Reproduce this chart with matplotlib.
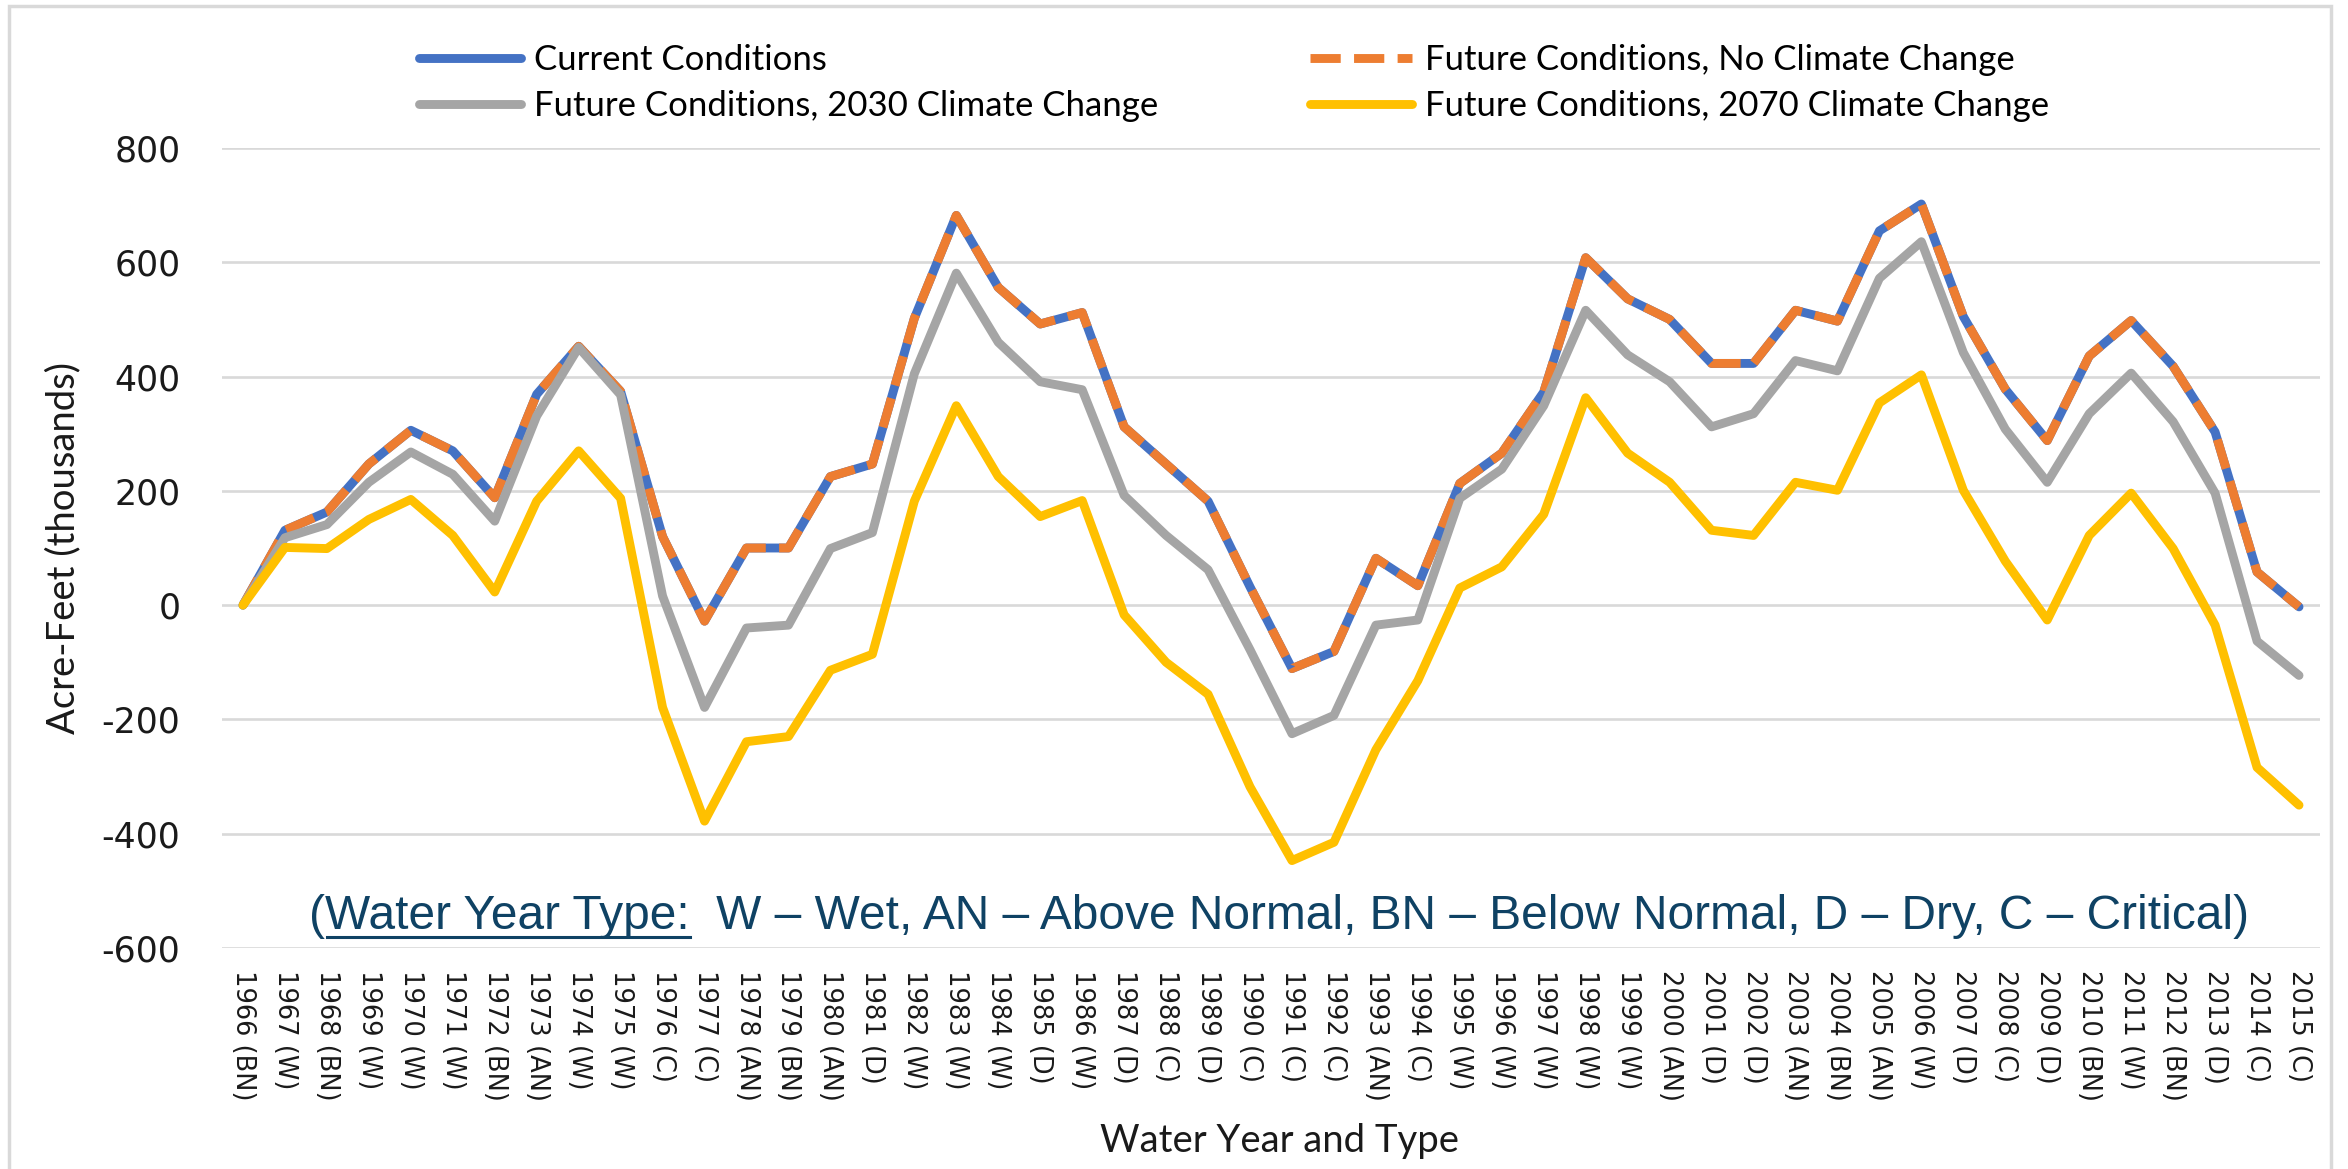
import matplotlib
matplotlib.use("Agg")
import matplotlib.pyplot as plt
from matplotlib.lines import Line2D
from matplotlib.patches import Rectangle
from matplotlib.font_manager import FontProperties

# ---- data (thousand acre-feet) ----
years = list(range(1966, 2016))
year_types = ["BN", "W", "BN", "W", "W", "W", "BN", "AN", "W", "W",
              "C", "C", "AN", "BN", "AN", "D", "W", "W", "W", "D",
              "W", "D", "C", "D", "C", "C", "C", "AN", "C", "W",
              "W", "W", "W", "W", "AN", "D", "D", "AN", "BN", "AN",
              "W", "D", "C", "D", "BN", "W", "BN", "D", "C", "C"]

current = [0, 131, 163, 247, 306, 270, 188, 369, 453, 374,
           120, -28, 100, 100, 225, 247, 502, 682, 556, 492,
           512, 312, 247, 182, 32, -111, -81, 82, 34, 213,
           266, 373, 608, 536, 500, 423, 423, 516, 497, 655,
           702, 505, 378, 288, 436, 498, 418, 303, 58, -3]

future_no_cc = [0, 131, 163, 247, 306, 270, 188, 369, 453, 374,
                120, -28, 100, 100, 225, 247, 502, 682, 556, 492,
                512, 312, 247, 182, 32, -111, -81, 82, 34, 213,
                266, 373, 608, 536, 500, 423, 423, 516, 497, 655,
                702, 505, 378, 288, 436, 498, 418, 303, 58, -3]

future_2030 = [0, 118, 141, 215, 268, 229, 147, 331, 451, 368,
               16, -179, -40, -35, 99, 127, 405, 581, 460, 391,
               377, 192, 122, 62, -78, -225, -193, -35, -26, 187,
               238, 349, 516, 438, 391, 312, 335, 428, 410, 572,
               636, 442, 308, 215, 335, 406, 321, 196, -63, -123]

future_2070 = [0, 101, 99, 150, 185, 122, 23, 182, 270, 187,
               -179, -378, -239, -230, -114, -86, 182, 349, 225, 155,
               183, -17, -100, -156, -318, -447, -415, -253, -132, 30,
               67, 159, 363, 266, 215, 131, 122, 215, 201, 354,
               403, 201, 77, -26, 122, 196, 99, -35, -284, -350]

tick_labels = [f"{y} ({t})" for y, t in zip(years, year_types)]
y_ticks = [-600, -400, -200, 0, 200, 400, 600, 800]

# ---- figure ----
W, H = 2348, 1169
fig = plt.figure(figsize=(W / 100, H / 100), dpi=100)
fig.patch.set_facecolor("white")


def fx(px):
    return px / W


def fy(py):
    return 1 - py / H


ax_left, ax_right, ax_top, ax_bottom = 222, 2320, 148, 948
ax = fig.add_axes([fx(ax_left), fy(ax_bottom),
                   (ax_right - ax_left) / W, (ax_bottom - ax_top) / H])

x = list(range(len(years)))
lw = 6.4
l_cur, = ax.plot(x, current, color="#4472C4", lw=lw, solid_joinstyle="round",
                 solid_capstyle="round", label="Current Conditions")
l_no, = ax.plot(x, future_no_cc, color="#ED7D31", lw=lw, dash_capstyle="butt",
                label="Future Conditions, No Climate Change")
l_no.set_dashes((3.4, 1.5))
l_30, = ax.plot(x, future_2030, color="#A5A5A5", lw=lw, solid_joinstyle="round",
                solid_capstyle="round", label="Future Conditions, 2030 Climate Change")
l_70, = ax.plot(x, future_2070, color="#FFC000", lw=lw, solid_joinstyle="round",
                solid_capstyle="round", label="Future Conditions, 2070 Climate Change")

ax.set_xlim(-0.5, len(years) - 0.5)
ax.set_ylim(-600, 800)
ax.set_yticks(y_ticks)
ax.set_yticklabels([str(v) for v in y_ticks], fontsize=25, color="#1a1a1a",
                   family="DejaVu Sans")
ax.set_xticks(x)
ax.set_xticklabels(tick_labels, rotation=-90, fontsize=18.5, color="#1a1a1a",
                   family="DejaVu Sans")
ax.tick_params(axis="y", length=0, pad=30)
ax.tick_params(axis="x", length=0, pad=16)
for s in ax.spines.values():
    s.set_visible(False)
ax.grid(axis="y", color="#D9D9D9", lw=1.9)
ax.set_axisbelow(True)

label_font = ["Lato", "DejaVu Sans"]
fig.text(fx(63), fy(548), "Acre-Feet (thousands)", rotation=90, ha="center",
         va="center", fontsize=27.5, family=label_font, color="#1a1a1a")
fig.text(fx(1280), fy(1141), "Water Year and Type", ha="center", va="center",
         fontsize=27.5, family=label_font, color="#1a1a1a")

# ---- legend: two columns placed independently ----
leg_kw = dict(loc="center left", frameon=False,
              prop={"family": label_font, "size": 25},
              handlelength=2.95, handletextpad=0.35, borderpad=0,
              borderaxespad=0, labelspacing=0.42)
fig.legend(handles=[l_cur, l_30], bbox_to_anchor=(fx(419), fy(83)), **leg_kw)
fig.legend(handles=[l_no, l_70], bbox_to_anchor=(fx(1310), fy(83)), **leg_kw)

# ---- water year type note, fitted across the plot ----
note_color = "#0F4264"
prefix = "("
underlined = "Water Year Type:"
rest = "  W \u2013 Wet, AN \u2013 Above Normal, BN \u2013 Below Normal, D \u2013 Dry, C \u2013 Critical)"
full = prefix + underlined + rest
note_left, note_right, note_base = 309, 2250, 929
note = fig.text(fx(note_left), fy(note_base), full, ha="left", va="baseline",
                fontsize=30, family="Liberation Sans", color=note_color)
renderer = fig.canvas.get_renderer()
wid = note.get_window_extent(renderer).width
note.set_fontsize(30 * (note_right - note_left) / wid)
fp = FontProperties(family="Liberation Sans", size=note.get_fontsize())
w_pre, _, _ = renderer.get_text_width_height_descent(prefix, fp, ismath=False)
w_und, _, _ = renderer.get_text_width_height_descent(prefix + underlined, fp, ismath=False)
u_y = note_base + 8
fig.add_artist(Line2D([fx(note_left + w_pre + 2), fx(note_left + w_und)],
                      [fy(u_y), fy(u_y)], color=note_color, lw=2.2,
                      transform=fig.transFigure))

# ---- chart frame ----
fig.add_artist(Rectangle((fx(9), fy(1180)), fx(2331 - 9), (1180 - 6) / H,
                         transform=fig.transFigure, fill=False,
                         edgecolor="#D9D9D9", lw=2.5))

fig.savefig("out.png", dpi=100, facecolor="white")
